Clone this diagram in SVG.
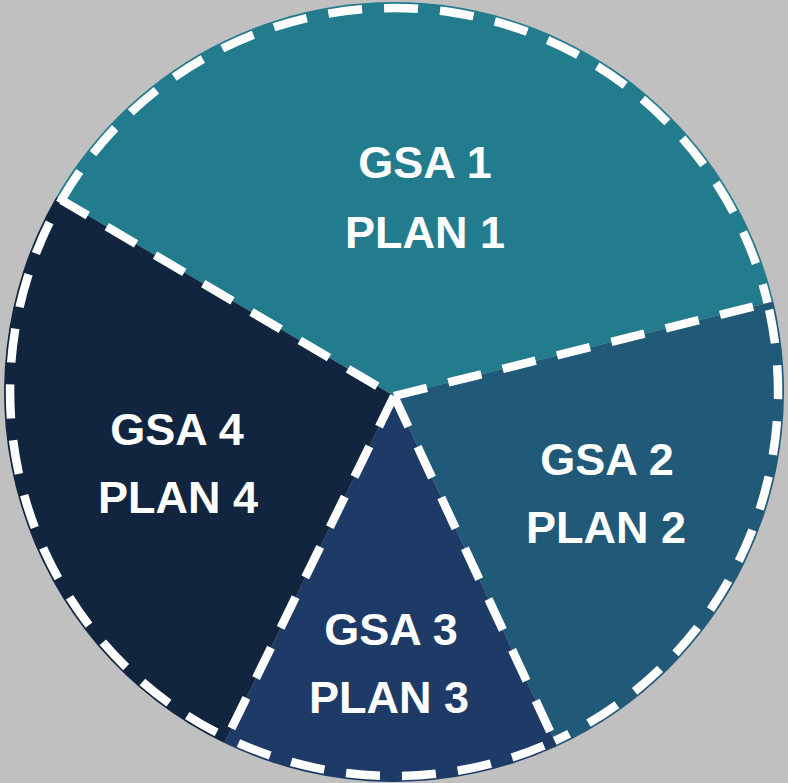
<svg xmlns="http://www.w3.org/2000/svg" width="788" height="783" viewBox="0 0 788 783">
<style>
.lbl{font-family:"Liberation Sans",Arial,sans-serif;font-weight:bold;font-size:45px;fill:#ffffff;text-anchor:middle}
.dash{fill:none;stroke:#ffffff;stroke-width:8.5;stroke-dasharray:34 22;stroke-linejoin:miter}
</style>
<rect x="0" y="0" width="788" height="783" fill="#c0c0c0"/>
<g id="gsa1">
<path d="M394,396 L56.3,197 A390,390 0 0 1 773.4,301.6 Z" fill="#237b8e"/>
<path class="dash" d="M61.5,200 A384,384 0 0 1 767.6,303"/>
<text class="lbl" x="425" y="178">GSA 1</text>
<text class="lbl" x="425" y="248">PLAN 1</text>
</g>
<g id="gsa2">
<path d="M394,396 L773.4,301.6 A390,390 0 0 1 557,746.3 Z" fill="#215a78"/>
<path class="dash" d="M394,396 L767.6,303 A384,384 0 0 1 554.5,740.9"/>
<text class="lbl" x="607" y="475">GSA 2</text>
<text class="lbl" x="606" y="543">PLAN 2</text>
</g>
<g id="gsa3">
<path d="M394,396 L557,746.3 A390,390 0 0 1 224.3,743.1 Z" fill="#1d3b66"/>
<path class="dash" d="M394,396 L554.5,740.9 A384,384 0 0 1 226.9,737.7"/>
<text class="lbl" x="391" y="645">GSA 3</text>
<text class="lbl" x="389" y="713">PLAN 3</text>
</g>
<g id="gsa4">
<path d="M394,396 L224.3,743.1 A390,390 0 0 1 56.3,197 Z" fill="#11253f"/>
<path class="dash" d="M394,396 L226.9,737.7 A384,384 0 0 1 61.5,200 L394,396"/>
<text class="lbl" x="177" y="445">GSA 4</text>
<text class="lbl" x="178" y="513">PLAN 4</text>
</g>
<g id="connectors"></g>
</svg>
